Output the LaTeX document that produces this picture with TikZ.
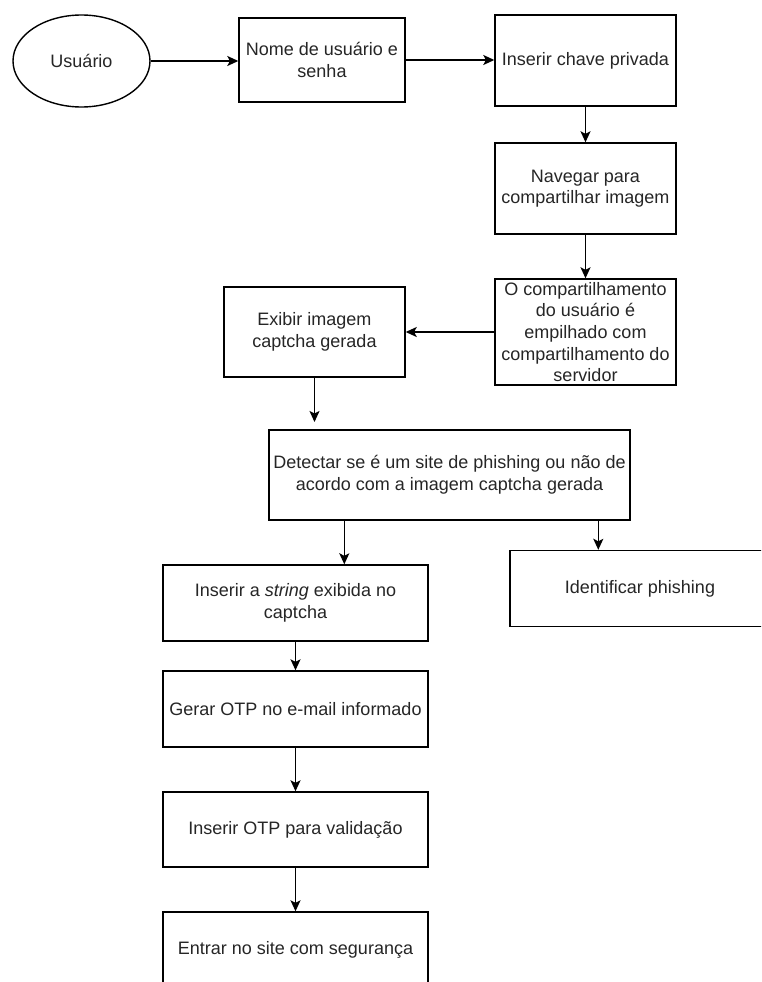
\documentclass[tikz,border=0pt]{standalone}
\usepackage{fontspec}
\setmainfont{Liberation Sans}
\usetikzlibrary{arrows.meta,shapes.geometric}

\tikzset{
  flowbox/.style={draw=black, line width=1.4pt, rectangle, align=center,
    inner sep=2pt, text=black!85,
    font=\fontsize{18}{21.6}\selectfont},
  startshape/.style={draw=black, line width=1.4pt, ellipse, inner sep=0pt,
    text=black!85, font=\fontsize{18}{21.6}\selectfont},
  flowarrow/.style={draw=black, line width=1.4pt,
    -{Stealth[length=11pt,width=10pt,inset=2.5pt]}}
}

\begin{document}
\begin{tikzpicture}[x=1pt,y=-1pt]
  \useasboundingbox (0,0) rectangle (761,982);
  \fill[white] (0,0) rectangle (761,982);
  \clip (0,0) rectangle (761,982);

  % nodes of the flow
  \node[startshape, minimum width=137pt, minimum height=92pt] (usr) at (81.5,61) {Usuário};
  \node[flowbox, minimum width=166pt, minimum height=84pt] (nome) at (322,60) {Nome de usuário e\\senha};
  \node[flowbox, minimum width=181pt, minimum height=91pt] (chave) at (585.5,60.5) {Inserir chave privada};
  \node[flowbox, minimum width=181pt, minimum height=91pt] (nav) at (585.5,188.5) {Navegar para\\compartilhar imagem};
  \node[flowbox, minimum width=181pt, minimum height=106pt, inner sep=0pt] (comp) at (585.5,332)
    {O compartilhamento\\do usuário é\\empilhado com\\compartilhamento do\\servidor};
  \node[flowbox, minimum width=181pt, minimum height=90pt] (exib) at (314.5,332) {Exibir imagem\\captcha gerada};
  \node[flowbox, minimum width=361pt, minimum height=90pt] (detect) at (449.5,475)
    {Detectar se é um site de phishing ou não de\\acordo com a imagem captcha gerada};
  \node[flowbox, minimum width=265pt, minimum height=76pt] (str) at (295.5,603)
    {Inserir a \textit{string} exibida no\\captcha};
  \node[flowbox, minimum width=260pt, minimum height=76pt] (ident) at (640,588.5) {Identificar phishing};
  \node[flowbox, minimum width=265pt, minimum height=76pt] (gerar) at (295.5,709) {Gerar OTP no e-mail informado};
  \node[flowbox, minimum width=265pt, minimum height=75pt] (otp) at (295.5,829.5) {Inserir OTP para validação};
  \node[flowbox, minimum width=265pt, minimum height=76pt] (entrar) at (295.5,950) {Entrar no site com segurança};

  % free end of the arrow that stops short of the detection box
  \coordinate (detTop) at (314.5,422);
  % exit points on the lower edge of the detection box
  \coordinate (detL) at ([xshift=76pt]detect.south west);
  \coordinate (detR) at ([xshift=330pt]detect.south west);

  % connectors
  \draw[flowarrow] (usr.east) -- (usr.east -| nome.west);
  \draw[flowarrow] (nome.east) -- (nome.east -| chave.west);
  \draw[flowarrow] (chave.south) -- (nav.north);
  \draw[flowarrow] (nav.south) -- (comp.north);
  \draw[flowarrow] (comp.west) -- (comp.west -| exib.east);
  \draw[flowarrow] (exib.south) -- (detTop);
  \draw[flowarrow] (detL) -- (detL |- str.north);
  \draw[flowarrow] (detR) -- (detR |- ident.north);
  \draw[flowarrow] (str.south) -- (gerar.north);
  \draw[flowarrow] (gerar.south) -- (otp.north);
  \draw[flowarrow] (otp.south) -- (entrar.north);
\end{tikzpicture}
\end{document}
